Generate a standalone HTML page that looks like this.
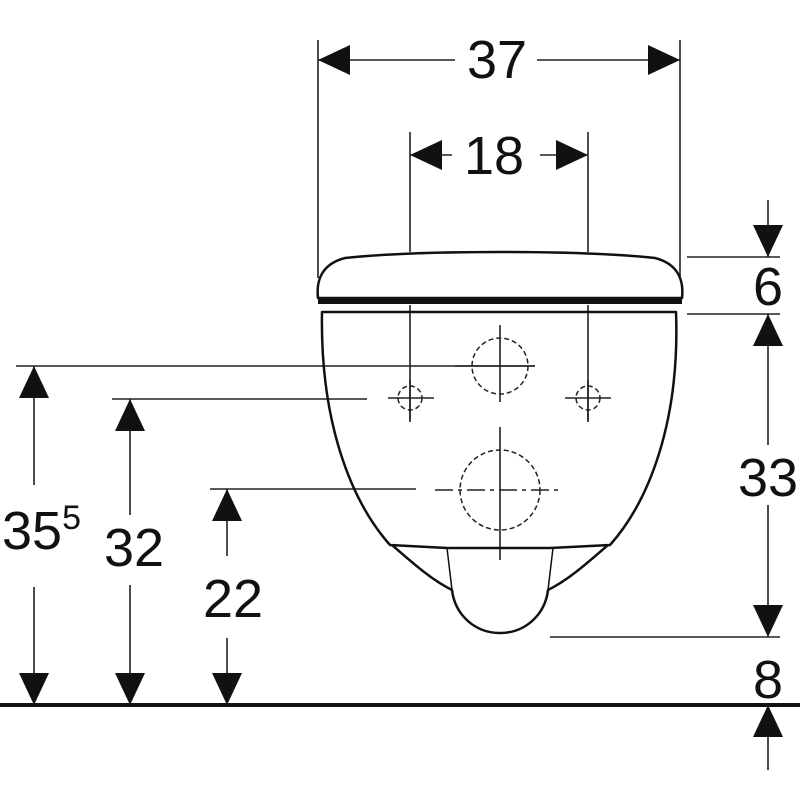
<!DOCTYPE html>
<html><head><meta charset="utf-8"><style>
html,body{margin:0;padding:0;background:#fff;}
svg{display:block}
text{font-family:"Liberation Sans",Arial,sans-serif;fill:#111;}
</style></head><body>
<svg width="800" height="800" viewBox="0 0 800 800" xmlns="http://www.w3.org/2000/svg">
<defs>
<path id="au" d="M0,0 L-15,32 L15,32 Z" fill="#111"/>
<path id="ad" d="M0,0 L-15,-32 L15,-32 Z" fill="#111"/>
<path id="al" d="M0,0 L32,-15 L32,15 Z" fill="#111"/>
<path id="ar" d="M0,0 L-32,-15 L-32,15 Z" fill="#111"/>
</defs>
<g stroke="#222" stroke-width="1.6" fill="none">
<line x1="318" y1="40" x2="318" y2="278"/>
<line x1="680" y1="40" x2="680" y2="278"/>
<line x1="318" y1="60" x2="455" y2="60"/>
<line x1="537" y1="60" x2="680" y2="60"/>
<line x1="410" y1="132" x2="410" y2="252"/>
<line x1="588" y1="132" x2="588" y2="252"/>
<line x1="410" y1="305" x2="410" y2="422"/>
<line x1="588" y1="305" x2="588" y2="422"/>
<line x1="410" y1="155" x2="452" y2="155"/>
<line x1="540" y1="155" x2="588" y2="155"/>
<line x1="16" y1="366" x2="535" y2="366"/>
<line x1="112" y1="399" x2="367" y2="399"/>
<line x1="210" y1="489" x2="416" y2="489"/>
<line x1="34" y1="366" x2="34" y2="485"/>
<line x1="34" y1="587" x2="34" y2="705"/>
<line x1="130" y1="399" x2="130" y2="515"/>
<line x1="130" y1="585" x2="130" y2="705"/>
<line x1="227" y1="489" x2="227" y2="556"/>
<line x1="227" y1="638" x2="227" y2="705"/>
<line x1="687" y1="257" x2="780" y2="257"/>
<line x1="687" y1="314" x2="780" y2="314"/>
<line x1="550" y1="637" x2="780" y2="637"/>
<line x1="768" y1="200" x2="768" y2="257"/>
<line x1="768" y1="314" x2="768" y2="445"/>
<line x1="768" y1="505" x2="768" y2="637"/>
<line x1="768" y1="705" x2="768" y2="770"/>
<line x1="500" y1="325" x2="500" y2="402"/>
<line x1="455" y1="366" x2="535" y2="366"/>
<line x1="388" y1="398" x2="434" y2="398"/>
<line x1="410" y1="380" x2="410" y2="420"/>
<line x1="565" y1="398" x2="611" y2="398"/>
<line x1="588" y1="380" x2="588" y2="420"/>
<line x1="500" y1="427" x2="500" y2="560"/>
<line x1="435" y1="490" x2="563" y2="490" stroke-dasharray="18,5,4,5"/>
</g>
<g stroke="#222" stroke-width="1.5" fill="none" stroke-dasharray="5,3">
<circle cx="500" cy="366" r="28"/>
<circle cx="410" cy="398" r="12"/>
<circle cx="588" cy="398" r="12"/>
<circle cx="500" cy="490" r="40"/>
</g>
<line x1="0" y1="705" x2="800" y2="705" stroke="#111" stroke-width="4"/>
<g stroke="#111" stroke-width="2.5" fill="none" stroke-linejoin="round">
<path d="M318,298 C316,280 322,264 345,258 C420,250 580,250 655,258 C678,264 684,280 682,298 Z"/>
<path d="M322,312 L676,312 C680,420 650,500 610,545 L550,548 L447,548 L390,545 C350,500 320,420 322,312 Z"/>
<path d="M392,545 C415,565 432,580 452,590 C455,615 475,633 500,633 C525,633 545,615 548,590 C568,580 585,565 608,545"/>
<path d="M447,548 L452,590 M553,548 L548,590" stroke-width="1.5"/>
</g>
<rect x="318" y="297" width="364" height="7" fill="#111"/>
<use href="#al" x="318" y="60"/>
<use href="#ar" x="680" y="60"/>
<use href="#al" x="410" y="155"/>
<use href="#ar" x="588" y="155"/>
<use href="#au" x="34" y="366"/>
<use href="#ad" x="34" y="705"/>
<use href="#au" x="130" y="399"/>
<use href="#ad" x="130" y="705"/>
<use href="#au" x="227" y="489"/>
<use href="#ad" x="227" y="705"/>
<use href="#ad" x="768" y="257"/>
<use href="#au" x="768" y="314"/>
<use href="#ad" x="768" y="637"/>
<use href="#au" x="768" y="705"/>
<text x="497" y="78" font-size="54" text-anchor="middle">37</text>
<text x="494" y="174" font-size="54" text-anchor="middle">18</text>
<text x="2" y="549" font-size="54">35<tspan font-size="34" dy="-20">5</tspan></text>
<text x="134" y="566" font-size="54" text-anchor="middle">32</text>
<text x="233" y="617" font-size="54" text-anchor="middle">22</text>
<text x="768" y="305" font-size="54" text-anchor="middle">6</text>
<text x="768" y="496" font-size="54" text-anchor="middle">33</text>
<text x="768" y="698" font-size="54" text-anchor="middle">8</text>
</svg>
</body></html>
